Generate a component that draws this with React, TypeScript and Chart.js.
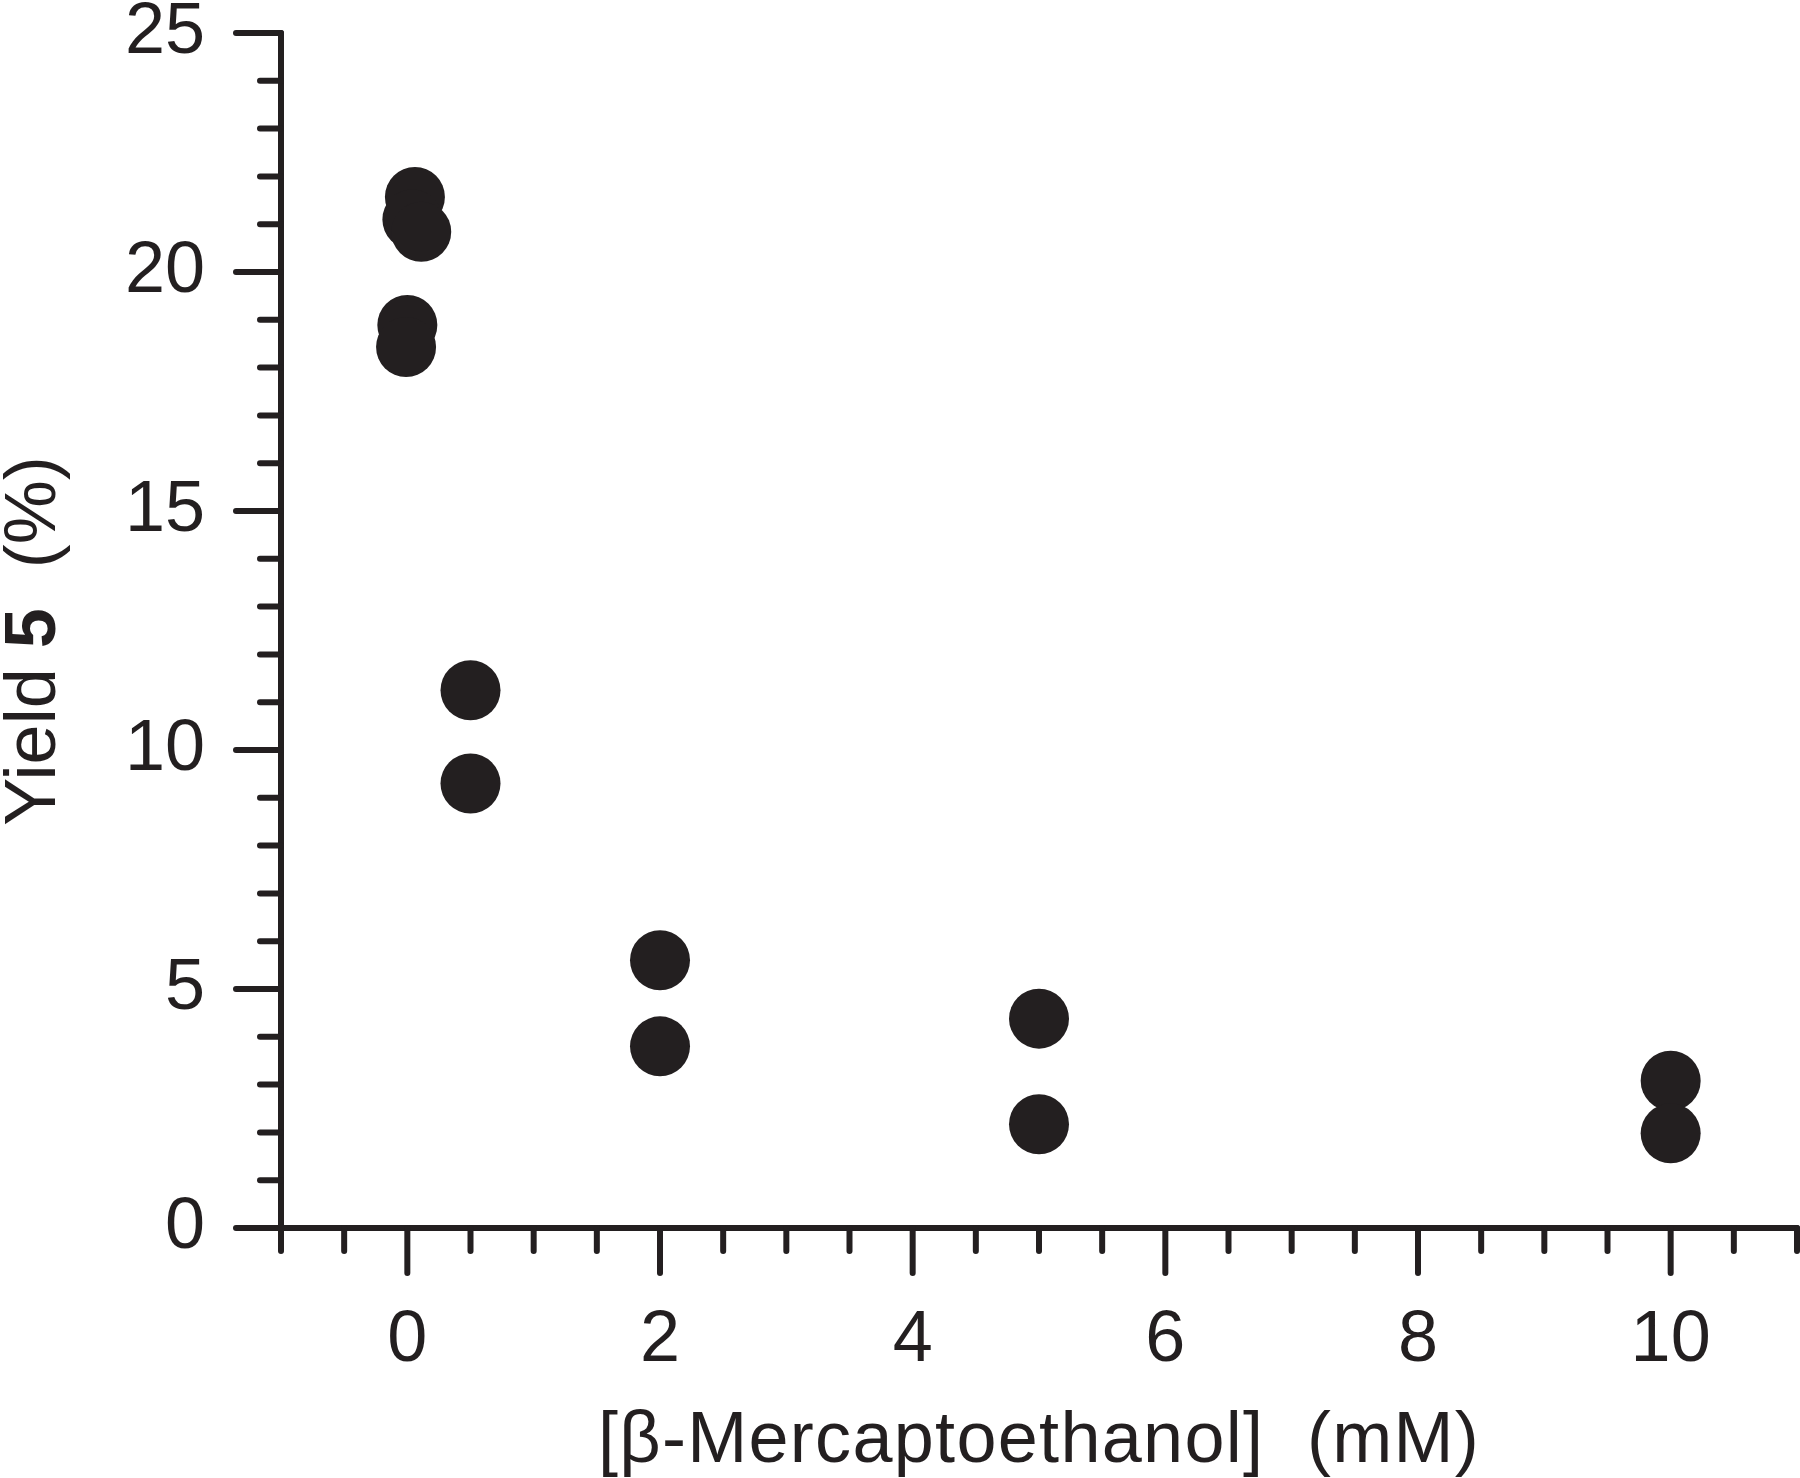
import React, { useEffect, useRef } from "react";
import { Chart, registerables } from "chart.js";

Chart.register(...registerables);

// ---- data ----
const concentrationsMM = [0.06, 0.04, 0.11, 0.0, -0.01, 0.5, 0.5, 2, 2, 5, 5, 10, 10];
const yieldPercent = [21.57, 21.1, 20.84, 18.89, 18.43, 11.25, 9.3, 5.6, 3.8, 4.38, 2.17, 3.08, 1.98];

const xTickValues = [0, 2, 4, 6, 8, 10];
const yTickValues = [0, 5, 10, 15, 20, 25];

const xTitle = "[β-Mercaptoethanol]  (mM)";
const yTitleParts = [
  { text: "Yield ", bold: false },
  { text: "5", bold: true },
  { text: "  (%)", bold: false },
];

const INK = "#231f20";
const FONT = '"Liberation Sans", Arial, sans-serif';

const axesPlugin = {
  id: "customAxes",
  afterDraw(chart: any) {
    const ctx = chart.ctx as CanvasRenderingContext2D;
    const xs = chart.scales.x;
    const ys = chart.scales.y;
    const x0 = xs.getPixelForValue(xs.min);
    const x1 = xs.getPixelForValue(xs.max);
    const y0 = ys.getPixelForValue(ys.min);
    const y1 = ys.getPixelForValue(ys.max);
    ctx.save();
    ctx.strokeStyle = INK;
    ctx.lineWidth = 6;
    ctx.lineCap = "round";
    ctx.lineJoin = "miter";
    // axis lines
    ctx.beginPath();
    ctx.moveTo(x0, y1);
    ctx.lineTo(x0, y0);
    ctx.lineTo(x1, y0);
    ctx.stroke();
    // y ticks (every 1, major every 5)
    for (let v = ys.min; v <= ys.max + 1e-9; v += 1) {
      const len = Math.abs(v % 5) < 1e-9 ? 45 : 21;
      const y = ys.getPixelForValue(v);
      ctx.beginPath();
      ctx.moveTo(x0 - len, y);
      ctx.lineTo(x0, y);
      ctx.stroke();
    }
    // x ticks (every 0.5, major at labelled values)
    for (let v = xs.min; v <= xs.max + 1e-9; v += 0.5) {
      const major = xTickValues.some((t) => Math.abs(t - v) < 1e-9);
      const len = major ? 45 : 23;
      const x = xs.getPixelForValue(v);
      ctx.beginPath();
      ctx.moveTo(x, y0);
      ctx.lineTo(x, y0 + len);
      ctx.stroke();
    }
    // x title
    ctx.fillStyle = INK;
    ctx.font = `72px ${FONT}`;
    ctx.textAlign = "center";
    ctx.textBaseline = "alphabetic";
    (ctx as any).letterSpacing = "1.3px";
    const area = chart.chartArea;
    ctx.fillText(xTitle, (area.left + area.right) / 2, 1462);
    (ctx as any).letterSpacing = "0px";
    // y title (rotated, mixed weight)
    ctx.save();
    ctx.translate(55, 641);
    ctx.rotate(-Math.PI / 2);
    ctx.textAlign = "left";
    let total = 0;
    for (const p of yTitleParts) {
      ctx.font = `${p.bold ? "bold " : ""}72px ${FONT}`;
      total += ctx.measureText(p.text).width;
    }
    let cx = -total / 2;
    for (const p of yTitleParts) {
      ctx.font = `${p.bold ? "bold " : ""}72px ${FONT}`;
      ctx.fillText(p.text, cx, 0);
      cx += ctx.measureText(p.text).width;
    }
    ctx.restore();
    ctx.restore();
  },
};

export default function App() {
  const canvasRef = useRef<HTMLCanvasElement | null>(null);

  useEffect(() => {
    document.body.style.margin = "0";
    const canvas = canvasRef.current;
    if (!canvas) return;
    const chart = new Chart(canvas, {
      type: "scatter",
      data: {
        datasets: [
          {
            data: concentrationsMM.map((x, i) => ({ x, y: yieldPercent[i] })),
            backgroundColor: INK,
            borderWidth: 0,
            pointRadius: 30,
            pointHoverRadius: 30,
            clip: false as any,
          },
        ],
      },
      options: {
        animation: false,
        responsive: true,
        maintainAspectRatio: false,
        events: [],
        layout: { autoPadding: false, padding: { left: 0, top: 33, right: 3, bottom: 0 } },
        plugins: { legend: { display: false }, tooltip: { enabled: false } },
        scales: {
          x: {
            type: "linear",
            position: "bottom",
            min: -1,
            max: 11,
            grid: { display: false, drawTicks: false },
            border: { display: false },
            ticks: {
              color: INK,
              font: { family: FONT, size: 72 },
              padding: 70,
              maxRotation: 0,
              autoSkip: false,
              callback: (v: any) => String(v),
            },
            afterBuildTicks: (s: any) => {
              s.ticks = xTickValues.map((value) => ({ value }));
            },
            afterFit: (s: any) => {
              s.height = 250;
              s.paddingLeft = 0;
              s.paddingRight = 0;
            },
          },
          y: {
            type: "linear",
            min: 0,
            max: 25,
            grid: { display: false, drawTicks: false },
            border: { display: false },
            ticks: {
              color: INK,
              font: { family: FONT, size: 72 },
              padding: 76,
              autoSkip: false,
              callback: (v: any) => String(v),
            },
            afterBuildTicks: (s: any) => {
              s.ticks = yTickValues.map((value) => ({ value }));
            },
            afterFit: (s: any) => {
              s.width = 281;
              s.paddingTop = 0;
              s.paddingBottom = 0;
            },
          },
        },
      },
      plugins: [axesPlugin],
    });
    return () => chart.destroy();
  }, []);

  return (
    <div style={{ width: 1800, height: 1478, position: "relative", background: "#fff" }}>
      <canvas ref={canvasRef} />
    </div>
  );
}
